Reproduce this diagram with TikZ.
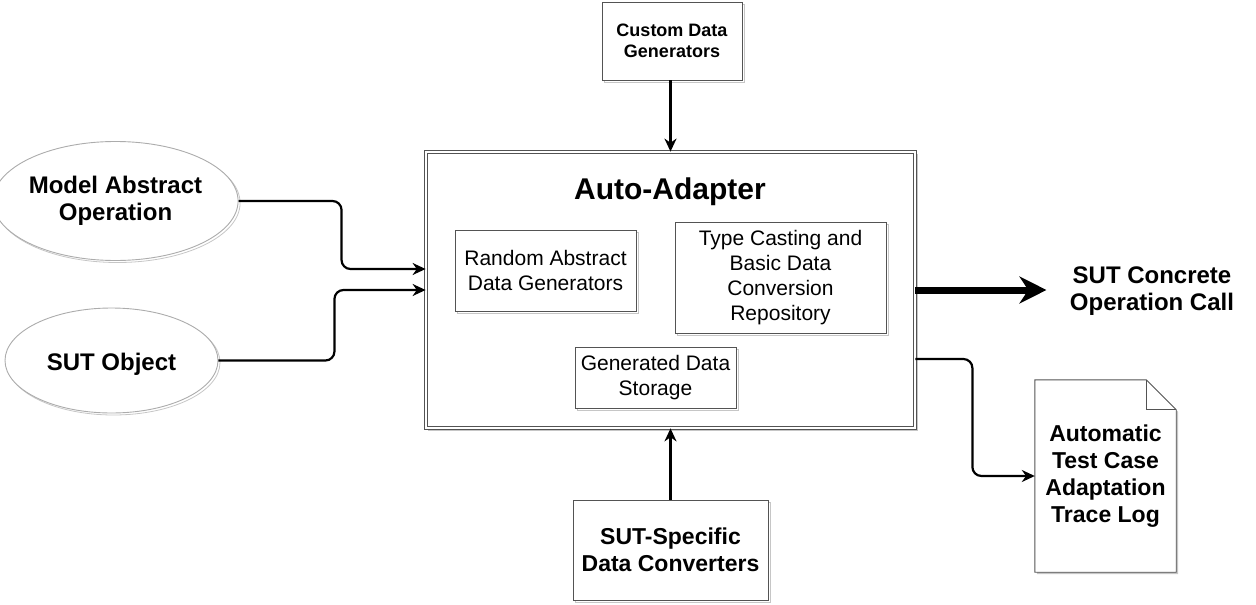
\documentclass[tikz,border=0pt]{standalone}
\usepackage{fontspec}
\setmainfont{Liberation Sans}
\usetikzlibrary{shapes.geometric,arrows.meta,shadows}
\begin{document}
\begin{tikzpicture}[x=1pt,y=-1pt,
  shad/.style={general shadow={shadow xshift=2pt,shadow yshift=-2pt,draw=gray!45,fill=none,line width=0.8pt}},
  dbox/.style={rectangle,draw=gray!65!black,line width=0.9pt,fill=white,inner sep=0pt,align=center,shad},
  ell/.style={ellipse,draw=gray!65,line width=0.9pt,fill=white,inner sep=0pt,align=center,shad},
  arr/.style={line width=2.2pt,-{Stealth[length=13pt,width=12pt]},rounded corners=9pt},
  fbig/.style={font=\fontsize{24}{27.5}\selectfont\bfseries},
  fmid/.style={font=\fontsize{23}{27}\selectfont\bfseries},
  freg/.style={font=\fontsize{21}{25}\selectfont},
  fsmall/.style={font=\fontsize{18}{21}\selectfont\bfseries}]
\useasboundingbox (0,0) rectangle (1256,605);
% main box
\node[rectangle,draw=gray!65!black,double=white,double distance=2pt,line width=0.8pt,fill=white,minimum width=489pt,minimum height=276pt,shad] (aa) at (670.5,290) {};
\node[font=\fontsize{30}{34}\selectfont\bfseries] (aat) at (670,192) {Auto-Adapter};
\node[dbox,freg,minimum width=181pt,minimum height=81pt] (rad) at (545.5,270.5) {Random Abstract\\Data Generators};
\node[dbox,freg,minimum width=211pt,minimum height=111pt] (tc) at (780.5,277.5) {Type Casting and\\Basic Data\\Conversion\\Repository};
\node[dbox,freg,minimum width=161pt,minimum height=61pt] (gds) at (655.5,377.5) {Generated Data\\Storage};
% outer nodes
\node[dbox,fsmall,minimum width=140pt,minimum height=78pt] (cdg) at (672,41) {Custom Data\\Generators};
\node[dbox,fmid,minimum width=195pt,minimum height=100pt] (ssdc) at (670.5,550) {SUT-Specific\\Data Converters};
\node[ell,fbig,minimum width=229pt,minimum height=119pt] (mao) at (115.5,201) {Model Abstract\\Operation};
\node[ell,minimum width=213pt,minimum height=105pt] (suto) at (111.5,360.5) {};
\node[fbig] (sutot) at (111.5,364) {SUT Object};
\node[fbig,align=center] (call) at (1152,291) {SUT Concrete\\Operation Call};
\node[rectangle,minimum width=141pt,minimum height=192pt,inner sep=0pt] (doc) at (1105.5,476) {};
\fill[gray!45] ([xshift=2pt,yshift=-2pt]doc.north west) -- ([xshift=-28pt,yshift=-2pt]doc.north east) -- ([xshift=2pt,yshift=-32pt]doc.north east) -- ([xshift=2pt,yshift=-2pt]doc.south east) -- ([xshift=2pt,yshift=-2pt]doc.south west) -- cycle;
\draw[draw=gray!65!black,line width=0.9pt,fill=white] (doc.north west) -- ([xshift=-30pt]doc.north east) -- ([yshift=-30pt]doc.north east) -- (doc.south east) -- (doc.south west) -- cycle;
\draw[draw=gray!65!black,line width=0.9pt] ([xshift=-30pt]doc.north east) -- ([xshift=-30pt,yshift=-30pt]doc.north east) -- ([yshift=-30pt]doc.north east);
\node[fmid,align=center] (doct) at (1105.5,476.5) {Automatic\\Test Case\\Adaptation\\Trace Log};
% connectors
\draw[arr] (mao.east) -- ++(103,0) |- ([yshift=21pt]aa.west);
\draw[arr] (suto.east) -- ++(116,0) |- (aa.west);
\draw[arr] (aa.north |- cdg.south) -- (aa.north);
\draw[arr] (ssdc.north) -- (aa.south);
\draw[line width=7pt,-{Stealth[length=27pt,width=27pt]},shorten >=20pt] (aa.east) -- (aa.east -| call.west);
\draw[arr] ([yshift=-69pt]aa.east) -- ++(57,0) |- (doc.west);
\end{tikzpicture}
\end{document}
